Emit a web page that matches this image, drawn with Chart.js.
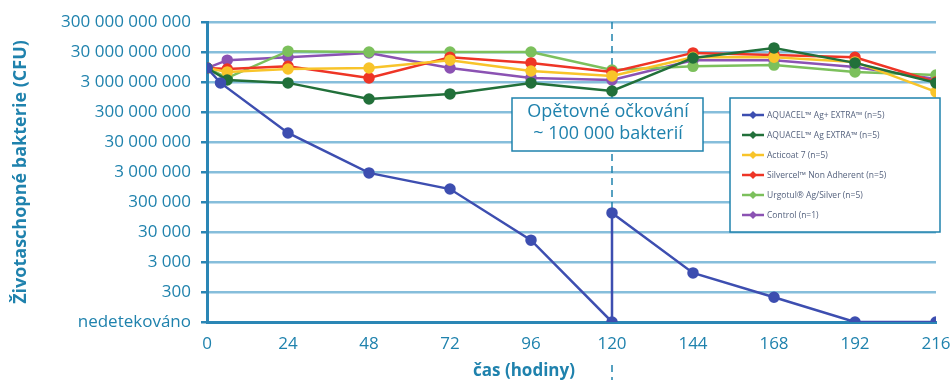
<!DOCTYPE html>
<html>
<head>
<meta charset="utf-8">
<script src="https://cdn.jsdelivr.net/npm/chart.js@4/dist/chart.umd.min.js"></script>
<style>
  html, body { margin: 0; padding: 0; background: #fff; }
  #wrap { width: 950px; height: 383px; }
</style>
</head>
<body>
<div id="wrap"><canvas id="myChart" width="950" height="383"></canvas></div>
<script>
// hodnoty (CFU), 30 = nedetekovano
const casy = [0, 6, 24, 48, 72, 96, 120, 144, 168, 192, 216];
const casyPlus = [0, 4, 24, 48, 72, 96, 120, 120, 144, 168, 192, 216];
const aquacelPlus = [8.8e9, 2.8e9, 6e7, 2.8e6, 8.1e5, 1.6e4, 30, 1.3e5, 1300, 200, 30, 30];
const aquacel = [8.8e9, 3.5e9, 2.8e9, 8.1e8, 1.2e9, 2.8e9, 1.5e9, 1.9e10, 4.1e10, 1.3e10, 2.8e9];
const acticoat = [8.8e9, 6.5e9, 8.1e9, 8.8e9, 1.6e10, 7e9, 4.8e9, 2e10, 2e10, 1.4e10, 1.4e9];
const silvercel = [8.8e9, 8.1e9, 1e10, 4.1e9, 2e10, 1.3e10, 6.5e9, 2.8e10, 2.4e10, 2e10, 3e9];
const urgotul = [8.8e9, 4.1e9, 3.2e10, 3e10, 3e10, 3e10, 7.5e9, 1e10, 1.1e10, 6.5e9, 5.1e9];
const kontrola = [8.8e9, 1.6e10, 2e10, 2.8e10, 8.8e9, 4.1e9, 3.5e9, 1.6e10, 1.6e10, 9.5e9, 3.8e9];
const popisky = ['AQUACEL™ Ag+ EXTRA™ (n=5)', 'AQUACEL™ Ag EXTRA™ (n=5)', 'Acticoat 7 (n=5)',
  'Silvercel™ Non Adherent (n=5)', 'Urgotul® Ag/Silver (n=5)', 'Control (n=1)'];
const yTicky = [30, 300, 3000, 30000, 3e5, 3e6, 3e7, 3e8, 3e9, 3e10, 3e11];
const xTicky = [0, 24, 48, 72, 96, 120, 144, 168, 192, 216];
const casOckovani = 120;
const poznamka = ['Opětovné očkování', '~ 100 000 bakterií'];
const xNazev = 'čas (hodiny)';

const modra = '#1f82ad';
const font = '"Open Sans", sans-serif';

function body(xs, ys) {
  return ys.map((v, i) => ({ x: xs[i], y: v }));
}

function serie(label, xs, ys, barva) {
  return {
    label: label,
    data: body(xs, ys),
    borderColor: barva,
    backgroundColor: barva,
    borderWidth: 2.5,
    pointRadius: 4.5,
    pointHoverRadius: 4.5,
    tension: 0
  };
}

// vlastni prvky: prerusovana cara, poznamka, legenda, nazev osy x
const doplnky = {
  id: 'doplnky',
  beforeDatasetsDraw(chart) {
    const ctx = chart.ctx;
    const a = chart.chartArea;
    const x = chart.scales.x.getPixelForValue(casOckovani);
    ctx.save();
    ctx.strokeStyle = modra;
    ctx.lineWidth = 1.5;
    ctx.setLineDash([7, 5]);
    ctx.beginPath();
    ctx.moveTo(x, a.top);
    ctx.lineTo(x, a.bottom);
    ctx.moveTo(x, 365);
    ctx.lineTo(x, 380);
    ctx.stroke();
    ctx.restore();
  },
  afterDatasetsDraw(chart) {
    const ctx = chart.ctx;
    ctx.save();
    // nazev osy x
    ctx.fillStyle = modra;
    ctx.font = 'bold 17px ' + font;
    ctx.textAlign = 'center';
    ctx.textBaseline = 'middle';
    ctx.fillText(xNazev, 524, 371);

    // poznamka
    ctx.fillStyle = '#fff';
    ctx.fillRect(512, 98, 191, 53);
    ctx.strokeStyle = modra;
    ctx.lineWidth = 1.5;
    ctx.strokeRect(512, 98, 191, 53);
    ctx.fillStyle = modra;
    ctx.font = '18px ' + font;
    ctx.fillText(poznamka[0], 608, 112);
    ctx.fillText(poznamka[1], 608, 134);

    // legenda
    ctx.fillStyle = '#fff';
    ctx.fillRect(730, 98, 210, 134);
    ctx.strokeStyle = modra;
    ctx.strokeRect(730, 98, 210, 134);
    ctx.textAlign = 'left';
    ctx.font = '8.5px ' + font;
    chart.data.datasets.forEach((ds, i) => {
      const y = 115 + i * 20;
      ctx.strokeStyle = ds.borderColor;
      ctx.lineWidth = 2.5;
      ctx.beginPath();
      ctx.moveTo(742, y);
      ctx.lineTo(764, y);
      ctx.stroke();
      ctx.fillStyle = ds.borderColor;
      ctx.beginPath();
      ctx.moveTo(753, y - 4);
      ctx.lineTo(757, y);
      ctx.lineTo(753, y + 4);
      ctx.lineTo(749, y);
      ctx.closePath();
      ctx.fill();
      ctx.fillStyle = '#55627e';
      ctx.fillText(ds.label, 767, y + 0.5);
    });
    ctx.restore();
  }
};

function formatuj(v) {
  if (v <= 30) return 'nedetekováno';
  return String(Math.round(v)).replace(/\B(?=(\d{3})+(?!\d))/g, ' ');
}

let canvas = document.getElementById('myChart');
let ctx = canvas.getContext('2d');

let chart = new Chart(ctx, {
  type: 'line',
  data: {
    datasets: [
      serie(popisky[0], casyPlus, aquacelPlus, '#3d4eb0'),
      serie(popisky[1], casy, aquacel, '#22703a'),
      serie(popisky[2], casy, acticoat, '#f8c42a'),
      serie(popisky[3], casy, silvercel, '#ee3526'),
      serie(popisky[4], casy, urgotul, '#7cc05c'),
      serie(popisky[5], casy, kontrola, '#8b52b3')
    ]
  },
  options: {
    responsive: false,
    animation: false,
    layout: { padding: { top: 22, right: 0, left: 0, bottom: 0 } },
    plugins: {
      legend: { display: false },
      tooltip: { enabled: false }
    },
    scales: {
      x: {
        type: 'linear',
        min: 0,
        max: 216,
        afterBuildTicks: s => { s.ticks = xTicky.map(v => ({ value: v })); },
        afterFit: s => { s.height = 61; s.paddingRight = 14; },
        grid: { display: false },
        border: { display: true, color: '#2a86b5', width: 3 },
        ticks: {
          color: modra,
          font: { family: font, size: 17 },
          padding: 4
        }
      },
      y: {
        type: 'logarithmic',
        min: 30,
        max: 3e11,
        afterBuildTicks: s => { s.ticks = yTicky.map(v => ({ value: v })); },
        afterFit: s => { s.width = 207; },
        grid: {
          color: '#86bedb',
          lineWidth: 2.5,
          tickLength: 6,
          tickColor: '#2a86b5'
        },
        border: { display: true, color: '#2a86b5', width: 3 },
        ticks: {
          color: modra,
          font: { family: font, size: 17 },
          padding: 10,
          autoSkip: false,
          callback: v => formatuj(v)
        },
        title: {
          display: true,
          text: 'Životaschopné bakterie (CFU)',
          color: modra,
          font: { family: font, size: 18, weight: 'bold' },
          padding: { top: 10, bottom: 0 }
        }
      }
    }
  },
  plugins: [doplnky]
});
</script>
</body>
</html>
